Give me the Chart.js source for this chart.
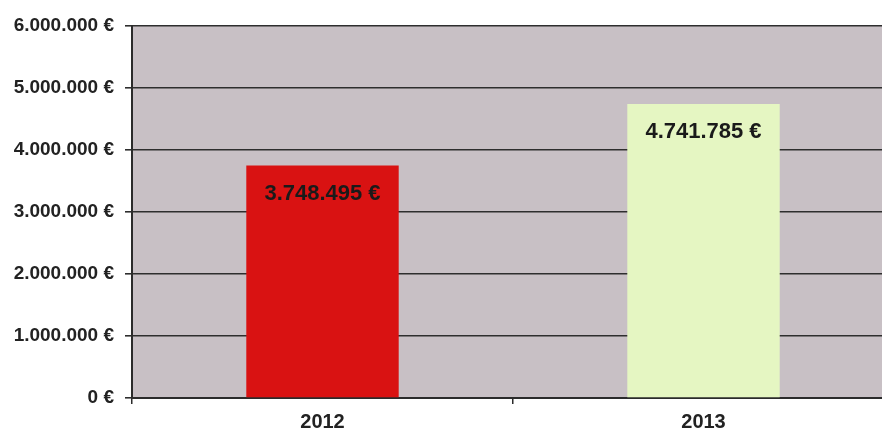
<!DOCTYPE html>
<html>
<head>
<meta charset="utf-8">
<script src="https://cdn.jsdelivr.net/npm/chart.js@4/dist/chart.umd.min.js"></script>
<style>
  html, body { margin: 0; padding: 0; background: #ffffff; overflow: hidden; }
  #wrap { width: 900px; height: 434px; }
</style>
</head>
<body>
<div id="wrap"><canvas id="c" width="900" height="434"></canvas></div>
<script>
const years = ['2012', '2013'];
const amounts = [3748495, 4741785];
const barColors = ['#d91212', '#e5f6c2'];
const yTicks = [0, 1000000, 2000000, 3000000, 4000000, 5000000, 6000000];

const FONT = '"Liberation Sans Narrow", "Liberation Sans", Arial, sans-serif';

function euro(v) {
  return String(Math.round(v)).replace(/\B(?=(\d{3})+(?!\d))/g, '.') + ' €';
}

// grey-mauve plot background
const plotBg = {
  id: 'plotBg',
  beforeDraw(chart) {
    const a = chart.chartArea, ctx = chart.ctx;
    ctx.save();
    ctx.fillStyle = '#c8c0c5';
    ctx.fillRect(a.left, a.top, a.right - a.left, a.bottom - a.top);
    ctx.restore();
  }
};

// amount written inside the top of each bar
const valueLabels = {
  id: 'valueLabels',
  afterDatasetsDraw(chart) {
    const ctx = chart.ctx;
    const meta = chart.getDatasetMeta(0);
    ctx.save();
    ctx.font = 'bold 22px ' + FONT;
    ctx.fillStyle = '#1a1a1a';
    ctx.textAlign = 'center';
    ctx.textBaseline = 'middle';
    meta.data.forEach((bar, i) => {
      ctx.fillText(euro(amounts[i]), bar.x, bar.y + 28);
    });
    ctx.restore();
  }
};

new Chart(document.getElementById('c'), {
  type: 'bar',
  data: {
    labels: years,
    datasets: [{
      data: amounts,
      backgroundColor: barColors,
      borderWidth: 0,
      barPercentage: 0.4,
      categoryPercentage: 1.0
    }]
  },
  options: {
    responsive: false,
    animation: false,
    layout: { padding: { top: 26, right: 6, left: 0, bottom: 0 } },
    plugins: { legend: { display: false }, tooltip: { enabled: false } },
    scales: {
      x: {
        offset: true,
        grid: {
          offset: true,
          drawOnChartArea: false,
          drawTicks: true,
          tickLength: 6,
          color: '#2b2b2b',
          lineWidth: 1.5
        },
        border: { display: true, color: '#2b2b2b', width: 2 },
        ticks: {
          color: '#222222',
          font: { family: FONT, size: 20, weight: 'bold' },
          padding: 6
        },
        afterFit(s) { s.height = 36; }
      },
      y: {
        min: 0,
        max: 6000000,
        afterBuildTicks(s) { s.ticks = yTicks.map(v => ({ value: v })); },
        grid: {
          color: '#2e2e2e',
          lineWidth: 1.6,
          tickLength: 7,
          drawTicks: true
        },
        border: { display: true, color: '#2b2b2b', width: 2 },
        ticks: {
          color: '#222222',
          font: { family: FONT, size: 19, weight: 'bold' },
          padding: 11,
          callback: v => euro(v)
        },
        afterFit(s) { s.width = 132; }
      }
    }
  },
  plugins: [plotBg, valueLabels]
});
</script>
</body>
</html>
